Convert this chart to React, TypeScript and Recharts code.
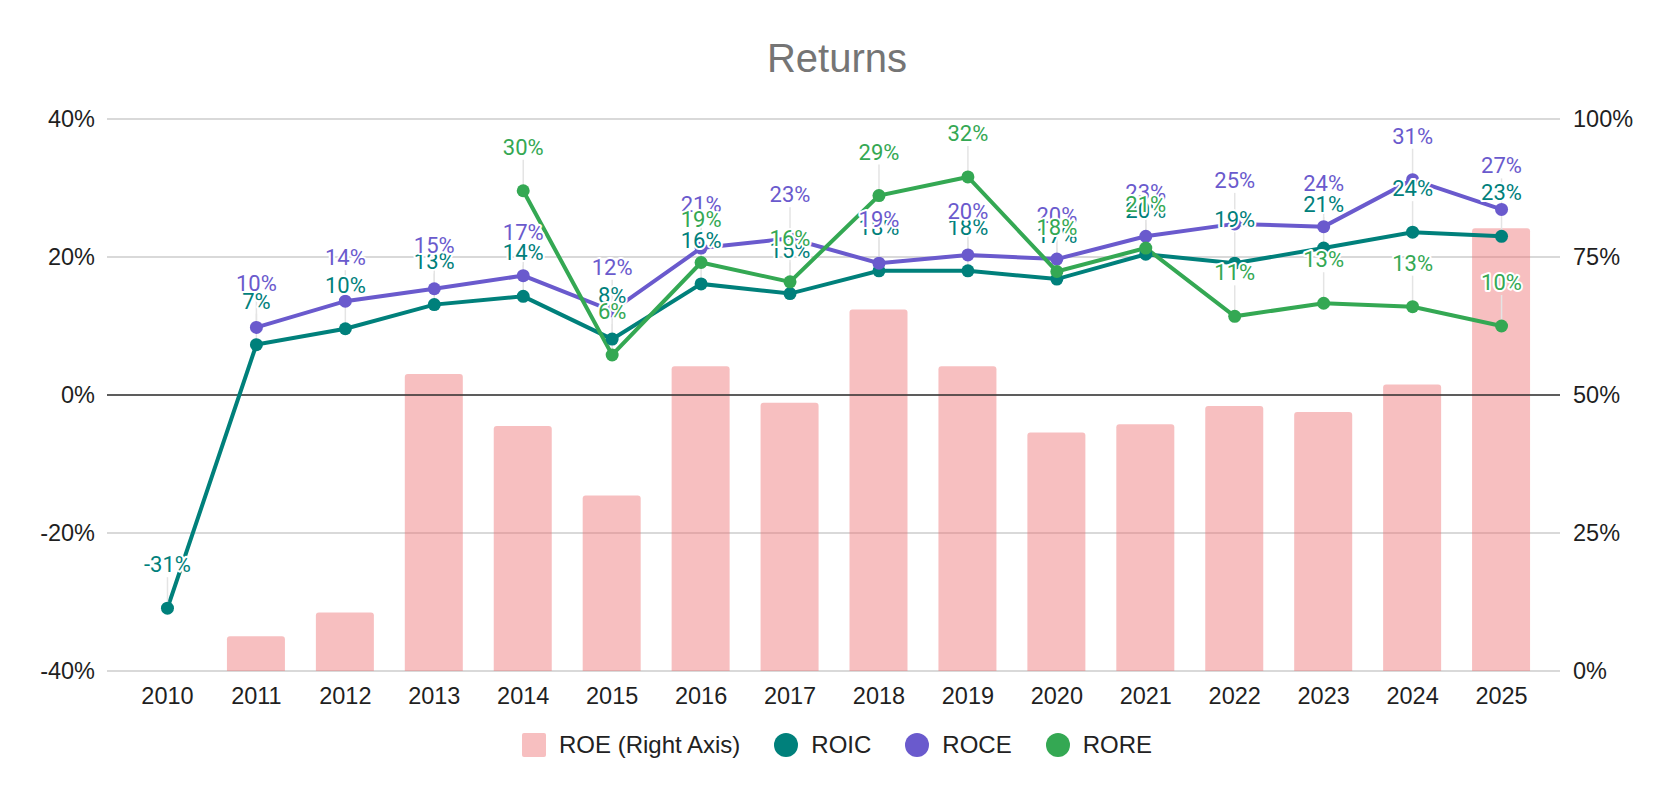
import React from 'react';
import {
  ComposedChart, Bar, Line, XAxis, YAxis, CartesianGrid,
  Legend, ReferenceLine, LabelList
} from 'recharts';

const years = ['2010', '2011', '2012', '2013', '2014', '2015', '2016', '2017',
  '2018', '2019', '2020', '2021', '2022', '2023', '2024', '2025'];

// ROE plotted on the right axis (0-100%)
const roe = [null, 6.3, 10.6, 53.8, 44.4, 31.8, 55.2, 48.6, 65.5, 55.2, 43.2, 44.7, 48.0, 46.9, 51.9, 80.2];
const roic = [-30.9, 7.3, 9.6, 13.1, 14.3, 8.1, 16.1, 14.7, 18.0, 18.0, 16.8, 20.4, 19.1, 21.3, 23.6, 23.0];
const roce = [null, 9.8, 13.6, 15.4, 17.3, 12.2, 21.3, 22.7, 19.1, 20.3, 19.7, 23.0, 24.8, 24.4, 31.2, 26.9];
const rore = [null, null, null, null, 29.6, 5.8, 19.2, 16.4, 28.9, 31.6, 17.9, 21.3, 11.4, 13.3, 12.8, 10.0];

const leftTicks = [-40, -20, 0, 20, 40];
const rightTicks = [0, 25, 50, 75, 100];

const data = years.map((year, i) => ({
  year,
  roe: roe[i],
  roic: roic[i],
  roce: roce[i],
  rore: rore[i],
}));

const COLORS = {
  roe: '#ED7173',
  roic: '#00807B',
  roce: '#6A5ACD',
  rore: '#34A853',
};

const SANS = '"Liberation Sans", Arial, sans-serif';

// thin gray leader line from the annotation down to the point, drawn as a "dot"
// of an invisible series placed before the real ones so the real dots cover it
const LeaderDot = (props: any) => {
  const { cx, cy, value, index } = props;
  if (value === null || value === undefined || cx == null || cy == null) return <g key={index} />;
  return <line key={index} x1={cx} x2={cx} y1={cy - 31} y2={cy - 4} stroke="#e4e4e4" strokeWidth={1.5} />;
};

const makeLabel = (color: string) => (props: any) => {
  const { value } = props;
  const x = props.x ?? props.viewBox?.x;
  const y = props.y ?? props.viewBox?.y;
  if (value === null || value === undefined || x === undefined || y === undefined) return null;
  return (
    <text
      x={x}
      y={y - 36}
      textAnchor="middle"
      fill={color}
      fontSize={22}
      fontFamily="Roboto, sans-serif"
      stroke="#fff"
      strokeWidth={4}
      strokeLinejoin="round"
      paintOrder="stroke"
    >
      {`${Math.round(value)}%`}
    </text>
  );
};

const XTick = (props: any) => {
  const { x, y, payload } = props;
  return (
    <text x={x} y={y} dy={32.6} textAnchor="middle" fontSize={23.5} fontFamily={SANS} fill="#1f1f1f">
      {payload.value}
    </text>
  );
};

const legendItems = [
  { label: 'ROE (Right Axis)', color: '#F7BFC0', shape: 'square' },
  { label: 'ROIC', color: COLORS.roic, shape: 'circle' },
  { label: 'ROCE', color: COLORS.roce, shape: 'circle' },
  { label: 'RORE', color: COLORS.rore, shape: 'circle' },
];

const LegendContent = () => (
  <div style={{ height: 40, display: 'flex', justifyContent: 'center', alignItems: 'center' }}>
    {legendItems.map((item, i) => (
      <div key={item.label} style={{ display: 'flex', alignItems: 'center', marginLeft: i === 0 ? 0 : 34 }}>
        <div
          style={{
            width: 24,
            height: 24,
            background: item.color,
            borderRadius: item.shape === 'circle' ? 12 : 2,
          }}
        />
        <span style={{ marginLeft: 13, fontSize: 24, fontFamily: SANS, color: '#222' }}>{item.label}</span>
      </div>
    ))}
  </div>
);

const seriesKeys = ['roic', 'roce', 'rore'] as const;

export default function App() {
  return (
    <div style={{ position: 'relative', width: 1674, height: 798 }}>
      <style>{'body{margin:0;}'}</style>
      <div
        style={{
          position: 'absolute',
          top: 38,
          left: 0,
          width: 1674,
          textAlign: 'center',
          fontSize: 40,
          lineHeight: '40px',
          fontFamily: SANS,
          color: '#757575',
        }}
      >
        Returns
      </div>
      <ComposedChart
        width={1674}
        height={798}
        data={data}
        margin={{ top: 119, right: 0, bottom: 33, left: 0 }}
      >
        <CartesianGrid yAxisId="left" vertical={false} stroke="#cccccc" strokeWidth={1.5} />
        <XAxis
          dataKey="year"
          padding={{ left: 16, right: 14 }}
          axisLine={false}
          tickLine={false}
          tickSize={0}
          tickMargin={0}
          height={54}
          interval={0}
          tick={<XTick />}
        />
        <YAxis
          yAxisId="left"
          width={107}
          domain={[-40, 40]}
          ticks={leftTicks}
          tickFormatter={(v: number) => `${v}%`}
          axisLine={false}
          tickLine={false}
          tickSize={0}
          tickMargin={12}
          tick={{ fontSize: 23.5, fill: '#1f1f1f', fontFamily: SANS }}
        />
        <YAxis
          yAxisId="right"
          orientation="right"
          width={114}
          domain={[0, 100]}
          ticks={rightTicks}
          tickFormatter={(v: number) => `${v}%`}
          axisLine={false}
          tickLine={false}
          tickSize={0}
          tickMargin={13}
          tick={{ fontSize: 23.5, fill: '#1f1f1f', fontFamily: SANS, textAnchor: 'start' }}
        />
        <Legend verticalAlign="bottom" content={<LegendContent />} />
        <Bar
          yAxisId="right"
          dataKey="roe"
          name="ROE (Right Axis)"
          fill={COLORS.roe}
          fillOpacity={0.45}
          barSize={58}
          radius={[3, 3, 0, 0]}
          isAnimationActive={false}
        />
        <ReferenceLine yAxisId="left" y={0} stroke="#333" strokeWidth={1.5} />
        {/* leader lines under the series */}
        {seriesKeys.map((k) => (
          <Line
            key={`lead-${k}`}
            yAxisId="left"
            dataKey={k}
            stroke="none"
            dot={LeaderDot}
            activeDot={false}
            legendType="none"
            isAnimationActive={false}
          />
        ))}
        <Line
          yAxisId="left"
          type="linear"
          dataKey="roic"
          name="ROIC"
          stroke={COLORS.roic}
          strokeWidth={4}
          dot={{ r: 6.5, fill: COLORS.roic, stroke: 'none' }}
          activeDot={false}
          isAnimationActive={false}
        />
        <Line
          yAxisId="left"
          type="linear"
          dataKey="roce"
          name="ROCE"
          stroke={COLORS.roce}
          strokeWidth={4}
          dot={{ r: 6.5, fill: COLORS.roce, stroke: 'none' }}
          activeDot={false}
          isAnimationActive={false}
        />
        <Line
          yAxisId="left"
          type="linear"
          dataKey="rore"
          name="RORE"
          stroke={COLORS.rore}
          strokeWidth={4}
          dot={{ r: 6.5, fill: COLORS.rore, stroke: 'none' }}
          activeDot={false}
          isAnimationActive={false}
        />
        {/* value annotations on top */}
        {seriesKeys.map((k) => (
          <Line key={`label-${k}`} yAxisId="left" dataKey={k} stroke="none" dot={false} activeDot={false} legendType="none" isAnimationActive={false}>
            <LabelList dataKey={k} content={makeLabel(COLORS[k])} />
          </Line>
        ))}
      </ComposedChart>
    </div>
  );
}
